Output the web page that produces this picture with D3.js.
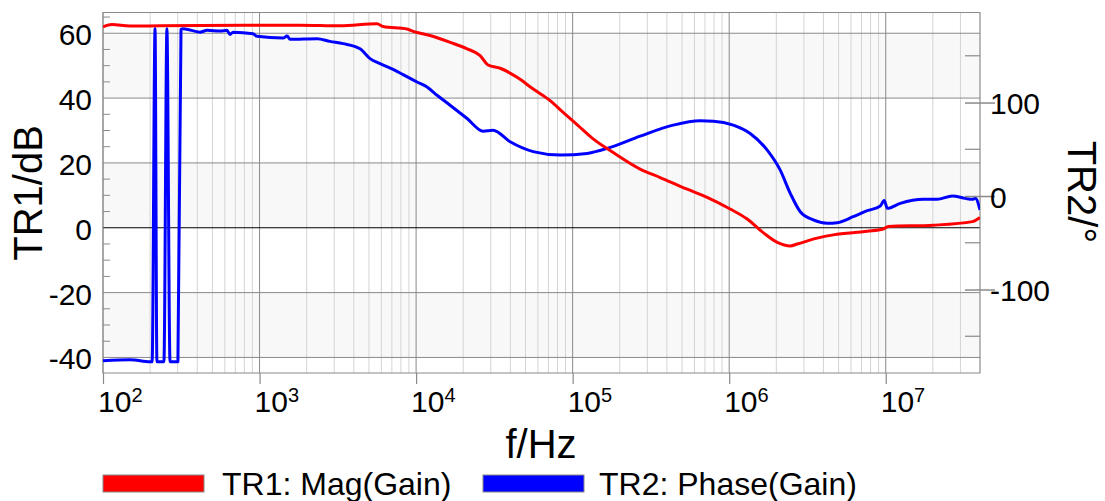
<!DOCTYPE html>
<html>
<head>
<meta charset="utf-8">
<script src="https://cdn.jsdelivr.net/npm/d3@7"></script>
<style>
  html, body { margin: 0; padding: 0; background: #fff; }
  svg { display: block; font-family: "Liberation Sans", Arial, Helvetica, sans-serif; }
</style>
</head>
<body>
<svg id="chart" width="1105" height="501"></svg>
<script>
// ---------------- data ----------------
const magFreq = [100, 114, 148, 231, 417, 964, 1816, 3266, 5636, 6152, 8750, 9572,
  12270, 16480, 21180, 25650, 28840, 34430, 44160, 55980, 71780, 86900,
  108400, 135200, 181600, 269800, 362200, 539500, 722800, 1014000, 1303000,
  1648000, 2028000, 2455000, 2723000, 3648000, 4624000, 7621000, 9638000,
  10380000, 20140000, 35730000, 40000000];
const magDb = [62.0, 62.7, 62.2, 62.3, 62.4, 62.5, 62.5, 62.3, 62.9, 62.1, 61.3, 60.6,
  59.3, 57.2, 55.2, 53.1, 50.2, 49.2, 46.4, 42.8, 39.2, 35.6,
  31.5, 27.4, 23.2, 18.1, 15.5, 11.9, 9.4, 5.8, 2.7,
  -1.5, -4.5, -5.6, -5.0, -3.2, -2.2, -1.1, -0.4,
  0.4, 0.8, 1.9, 3.2];

const phaseFreq = [100, 149, 200, 206, 215, 221, 245, 256, 268, 301, 315, 324,
  417, 462, 560, 619, 647, 678, 908, 964, 1413, 1500, 1567, 2328, 2818, 3420,
  4385, 5082, 5888, 7129, 8260, 10140, 11750, 13610, 16480, 21180, 26790,
  31050, 39900, 55980, 83180, 123900, 173800, 269800, 438500, 653100, 790700,
  1062000, 1361000, 1750000, 2118000, 2455000, 2844000, 3443000, 4227000,
  4898000, 6194000, 7621000, 9226000, 9772000, 10230000, 12390000, 17380000,
  21330000, 26610000, 32210000, 35730000, 37330000, 40000000];
const phaseDeg = [-176.1, -175.0, -177.2, -177.2, 179.3, -177.2, -177.2, 178.8, -177.2, -177.2, 178.2, 179.0,
  175.3, 177.2, 176.4, 177.2, 172.9, 175.3, 173.6, 170.8, 168.9, 171.1, 167.6, 168.3, 165.4, 163.0,
  157.6, 147.0, 141.6, 135.5, 129.9, 122.0, 116.6, 107.8, 97.1, 82.9, 69.4,
  70.4, 58.0, 47.5, 43.8, 45.6, 52.0, 64.0, 75.8, 80.4, 80.0,
  75.8, 66.9, 49.1, 27.7, 2.9, -16.8, -25.6, -29.1,
  -28.5, -22.1, -15.7, -10.7, -4.8, -13.1, -7.8, -3.5,
  -3.5, 0.0, -2.5, -3.5, -2.5, -14.9];

const leftTicks = [-40, -20, 0, 20, 40, 60];
const leftMinorTicks = [-35, -30, -25, -15, -10, -5, 5, 10, 15, 25, 30, 35, 45, 50, 55, 65];
const rightTicks = [-100, 0, 100];
const rightMinorTicks = [-150, -50, 50, 150];
const decadeTicks = [1e2, 1e3, 1e4, 1e5, 1e6, 1e7];
const decadeExponents = ["2", "3", "4", "5", "6", "7"];
const shadedBands = [[-40, -20], [0, 20], [40, 60]];
const legendLabels = ["TR1: Mag(Gain)", "TR2: Phase(Gain)"];
const seriesColors = ["#ff0000", "#0000ff"];

// ---------------- layout ----------------
const W = 1105, H = 501;
const L = 103, R = 980, T = 12.5, B = 373;
const svg = d3.select("#chart");
svg.append("rect").attr("width", W).attr("height", H).attr("fill", "#fff");

const x = d3.scaleLog().domain([100, 4e7]).range([L, R]);
const yL = d3.scaleLinear().domain([-44.8, 66.4]).range([B, T]);
const yR = d3.scaleLinear().domain([-189.3, 196.3]).range([B, T]);
const hyphenFmt = d => String(d); // plain hyphen-minus as in the reference

const gridMajor = "#8a8a8a", gridMinor = "#d4d4d4";

// shaded bands
svg.append("g").selectAll("rect").data(shadedBands).join("rect")
  .attr("x", L).attr("width", R - L)
  .attr("y", d => yL(d[1])).attr("height", d => yL(d[0]) - yL(d[1]))
  .attr("fill", "#f8f8f8");

// minor vertical grid
const minorF = [];
decadeTicks.forEach(d => { for (let k = 2; k <= 9; k++) { if (k * d <= 4e7) minorF.push(k * d); } });
svg.append("g").selectAll("line").data(minorF).join("line")
  .attr("x1", d => x(d)).attr("x2", d => x(d)).attr("y1", T).attr("y2", B)
  .attr("stroke", gridMinor).attr("stroke-width", 1);

// major vertical grid
svg.append("g").selectAll("line").data(decadeTicks).join("line")
  .attr("x1", d => x(d)).attr("x2", d => x(d)).attr("y1", T).attr("y2", B)
  .attr("stroke", gridMajor).attr("stroke-width", 1);

// horizontal grid
svg.append("g").selectAll("line").data(leftTicks).join("line")
  .attr("x1", L).attr("x2", R).attr("y1", d => yL(d)).attr("y2", d => yL(d))
  .attr("stroke", d => d === 0 ? "#000" : gridMajor).attr("stroke-width", 1);

// left minor ticks (inside)
svg.append("g").selectAll("line").data(leftMinorTicks).join("line")
  .attr("x1", L).attr("x2", L + 7).attr("y1", d => yL(d)).attr("y2", d => yL(d))
  .attr("stroke", gridMajor).attr("stroke-width", 1);

// right minor ticks (inside)
svg.append("g").selectAll("line").data(rightMinorTicks).join("line")
  .attr("x1", R - 15).attr("x2", R).attr("y1", d => yR(d)).attr("y2", d => yR(d))
  .attr("stroke", gridMajor).attr("stroke-width", 1.2);

// border
svg.append("rect").attr("x", L).attr("y", T).attr("width", R - L).attr("height", B - T)
  .attr("fill", "none").attr("stroke", gridMajor).attr("stroke-width", 1);

// curves
svg.append("clipPath").attr("id", "clip").append("rect")
  .attr("x", L).attr("y", T).attr("width", R - L).attr("height", B - T);
const magData = magFreq.map((f, i) => [f, magDb[i]]);
const phaseData = phaseFreq.map((f, i) => [f, phaseDeg[i]]);
const plotG = svg.append("g").attr("clip-path", "url(#clip)");
plotG.append("path").datum(phaseData)
  .attr("d", d3.line().curve(d3.curveMonotoneX).x(d => x(d[0])).y(d => yR(d[1])))
  .attr("fill", "none").attr("stroke", seriesColors[1]).attr("stroke-width", 3)
  .attr("stroke-linejoin", "round");
plotG.append("path").datum(magData)
  .attr("d", d3.line().curve(d3.curveMonotoneX).x(d => x(d[0])).y(d => yL(d[1])))
  .attr("fill", "none").attr("stroke", seriesColors[0]).attr("stroke-width", 3)
  .attr("stroke-linejoin", "round");

// left axis labels
const axL = svg.append("g").attr("transform", `translate(${L},0)`)
  .call(d3.axisLeft(yL).tickValues(leftTicks).tickSize(0).tickPadding(11).tickFormat(hyphenFmt));
axL.select(".domain").remove();
axL.selectAll("text").attr("font-size", 30).attr("fill", "#000")
  .attr("font-family", "'Liberation Sans', Arial, sans-serif").attr("dy", "0.38em");

// right axis
const axR = svg.append("g").attr("transform", `translate(${R - 15},0)`)
  .call(d3.axisRight(yR).tickValues(rightTicks).tickSize(30).tickPadding(-5).tickFormat(hyphenFmt));
axR.select(".domain").remove();
axR.selectAll("line").attr("stroke", gridMajor).attr("stroke-width", 1.5);
axR.selectAll("text").attr("font-size", 30).attr("fill", "#000")
  .attr("font-family", "'Liberation Sans', Arial, sans-serif").attr("dy", "0.38em");

// x axis
const axB = svg.append("g").attr("transform", `translate(0,${B})`)
  .call(d3.axisBottom(x).tickValues(decadeTicks).tickSize(11).tickFormat(""));
axB.select(".domain").remove();
axB.selectAll("line").attr("stroke", gridMajor).attr("stroke-width", 1.2);
const xl = svg.append("g").selectAll("text").data(decadeTicks).join("text")
  .attr("x", d => x(d) - 5).attr("y", 412)
  .attr("font-size", 30).attr("fill", "#000");
xl.append("tspan").text("10");
xl.append("tspan").attr("font-size", 20).attr("dy", -10).text((d, i) => decadeExponents[i]);

// axis titles
svg.append("text").attr("transform", "translate(42,193) rotate(-90)")
  .attr("text-anchor", "middle").attr("font-size", 40).text("TR1/dB");
svg.append("text").attr("x", 541).attr("y", 458)
  .attr("text-anchor", "middle").attr("font-size", 40).text("f/Hz");
svg.append("text").attr("transform", "translate(1068,192) rotate(90)")
  .attr("text-anchor", "middle").attr("font-size", 40).text("TR2/°");

// legend
const legX = [103, 483];
const lg = svg.append("g").selectAll("g").data(legendLabels).join("g")
  .attr("transform", (d, i) => `translate(${legX[i]},475)`);
lg.append("rect").attr("width", 101).attr("height", 17)
  .attr("fill", (d, i) => seriesColors[i]).attr("stroke", "#888").attr("stroke-width", 1);
lg.append("text").attr("x", (d, i) => i === 0 ? 119 : 116).attr("y", 20)
  .attr("font-size", 32).attr("fill", "#000").text(d => d);
</script>
</body>
</html>
